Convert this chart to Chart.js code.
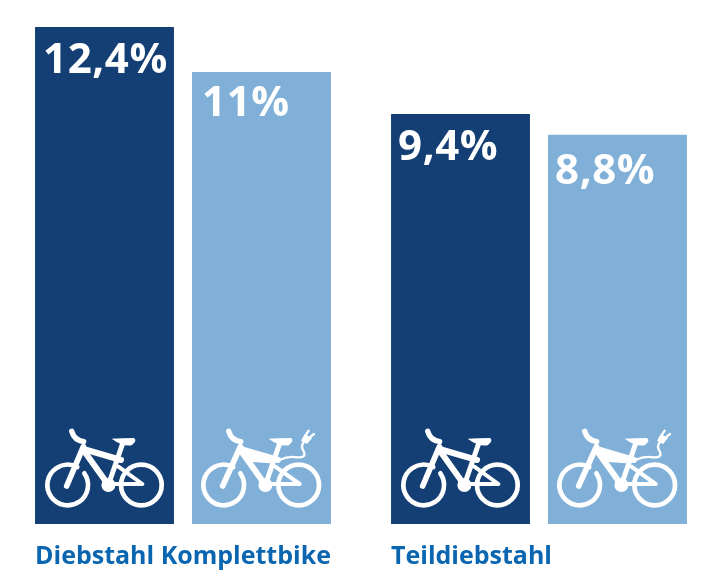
<!DOCTYPE html>
<html><head><meta charset="utf-8">
<style>html,body{margin:0;padding:0;background:#fff}#wrap{width:728px;height:582px;position:relative}</style>
<script src="https://cdn.jsdelivr.net/npm/chart.js@4"></script>
</head><body><div id="wrap"><canvas id="c"></canvas></div>
<script>
const categories = ['Diebstahl Komplettbike', 'Teildiebstahl'];
// Bar heights as drawn in the picture (not proportional to the printed percentages)
const bikeHeights = [12.4, 10.23];
const ebikeHeights = [11.28, 9.71];
// Printed percentages
const bikeLabels = ['12,4%', '9,4%'];
const ebikeLabels = ['11%', '8,8%'];

const DARK = '#143f75', LIGHT = '#80b0d8', BLUE = '#0a66b0';
const FONT = '"Open Sans", sans-serif';

function drawBike(ctx, electric) {
  // icon drawn in local units, 3 units = 1 px, origin at bar's bottom-left
  ctx.save();
  ctx.strokeStyle = '#fff'; ctx.fillStyle = '#fff';
  ctx.lineCap = 'round'; ctx.lineJoin = 'round';
  const lx = electric ? 95 : 98, rx = electric ? 320 : 319, wy = -117, r = 61;
  ctx.lineWidth = 14;
  ctx.beginPath(); ctx.arc(lx, wy, r, -35 * Math.PI / 180, (360 - 62) * Math.PI / 180); ctx.stroke();
  ctx.beginPath(); ctx.arc(rx, wy, r, 0, Math.PI * 2); ctx.stroke();
  // fork
  ctx.lineWidth = 17;
  ctx.beginPath(); ctx.moveTo(lx - 3, wy + 3); ctx.lineTo(145, -232); ctx.stroke();
  // handlebar
  ctx.lineWidth = 16;
  ctx.beginPath(); ctx.moveTo(110, -278); ctx.quadraticCurveTo(118, -250, 146, -247); ctx.stroke();
  // frame
  ctx.lineWidth = 18;
  ctx.beginPath(); ctx.moveTo(145, -225); ctx.lineTo(258, -192); ctx.stroke();
  ctx.beginPath(); ctx.moveTo(145, -222); ctx.lineTo(220, -117); ctx.stroke();
  ctx.lineWidth = 15;
  ctx.beginPath(); ctx.moveTo(220, -117); ctx.lineTo(263, -242); ctx.stroke();
  // rear triangle
  ctx.lineWidth = 12;
  ctx.beginPath(); ctx.moveTo(250, -172); ctx.lineTo(rx + 3, -120); ctx.lineTo(228, -120); ctx.stroke();
  // bottom bracket
  ctx.beginPath(); ctx.arc(220, -117, 21, 0, Math.PI * 2); ctx.fill();
  // saddle
  ctx.beginPath(); ctx.moveTo(230, -256); ctx.quadraticCurveTo(260, -258, 297, -258);
  ctx.quadraticCurveTo(308, -250, 290, -236); ctx.quadraticCurveTo(262, -232, 230, -256); ctx.fill();
  if (electric) {
    // battery
    ctx.beginPath(); ctx.moveTo(152, -226); ctx.lineTo(240, -200); ctx.lineTo(235, -182); ctx.lineTo(180, -186); ctx.closePath(); ctx.fill();
    // cable
    ctx.lineWidth = 7;
    ctx.beginPath(); ctx.moveTo(262, -192); ctx.quadraticCurveTo(290, -205, 315, -200);
    ctx.quadraticCurveTo(345, -198, 335, -218); ctx.quadraticCurveTo(325, -232, 335, -245); ctx.stroke();
    // plug
    ctx.beginPath(); ctx.moveTo(327, -250); ctx.lineTo(338, -270); ctx.lineTo(360, -258); ctx.lineTo(345, -240); ctx.closePath(); ctx.fill();
    ctx.lineWidth = 7;
    ctx.beginPath(); ctx.moveTo(343, -270); ctx.lineTo(350, -280); ctx.moveTo(356, -262); ctx.lineTo(366, -270); ctx.stroke();
  }
  ctx.restore();
}

// Small placement tweaks of the printed percentages: [dx, baseline offset from bar top]
const bikeLabelNudge = [[8, 46], [7, 46]];
const ebikeLabelNudge = [[10, 44], [7, 49]];

const overlay = {
  id: 'overlay',
  afterDatasetsDraw(chart) {
    const ctx = chart.ctx;
    [[bikeLabels, bikeLabelNudge], [ebikeLabels, ebikeLabelNudge]].forEach(([labels, nudge], ds) => {
      chart.getDatasetMeta(ds).data.forEach((bar, i) => {
        const left = bar.x - bar.width / 2;
        ctx.save();
        ctx.fillStyle = '#fff';
        ctx.font = '700 42px ' + FONT;
        ctx.letterSpacing = '0.6px';
        ctx.textAlign = 'left'; ctx.textBaseline = 'alphabetic';
        ctx.fillText(labels[i], left + nudge[i][0], bar.y + nudge[i][1]);
        ctx.restore();
        ctx.save();
        ctx.translate(left, bar.base);
        ctx.scale(1 / 3, 1 / 3);
        drawBike(ctx, ds === 1);
        ctx.restore();
      });
    });
  }
};

Chart.defaults.animation = false;
new Chart(document.getElementById('c'), {
  type: 'bar',
  data: {
    labels: categories,
    datasets: [
      { label: 'Fahrrad', data: bikeHeights, backgroundColor: DARK, categoryPercentage: 0.882, barPercentage: 0.885 },
      { label: 'E-Bike', data: ebikeHeights, backgroundColor: LIGHT, categoryPercentage: 0.882, barPercentage: 0.885 }
    ]
  },
  options: {
    responsive: true, maintainAspectRatio: false, animation: false,
    layout: { padding: { top: 27, left: 5, right: 11, bottom: 4 } },
    plugins: { legend: { display: false }, tooltip: { enabled: false } },
    scales: {
      x: {
        grid: { display: false }, border: { display: false },
        afterFit(scale) { scale.height = 54; },
        ticks: { align: 'start', labelOffset: -148, padding: 10, color: BLUE, maxRotation: 0, autoSkip: false,
                 font: { family: FONT, size: 25, weight: '700' } }
      },
      y: { display: false, min: 0, max: 12.4 }
    }
  },
  plugins: [overlay]
});
</script></body></html>
